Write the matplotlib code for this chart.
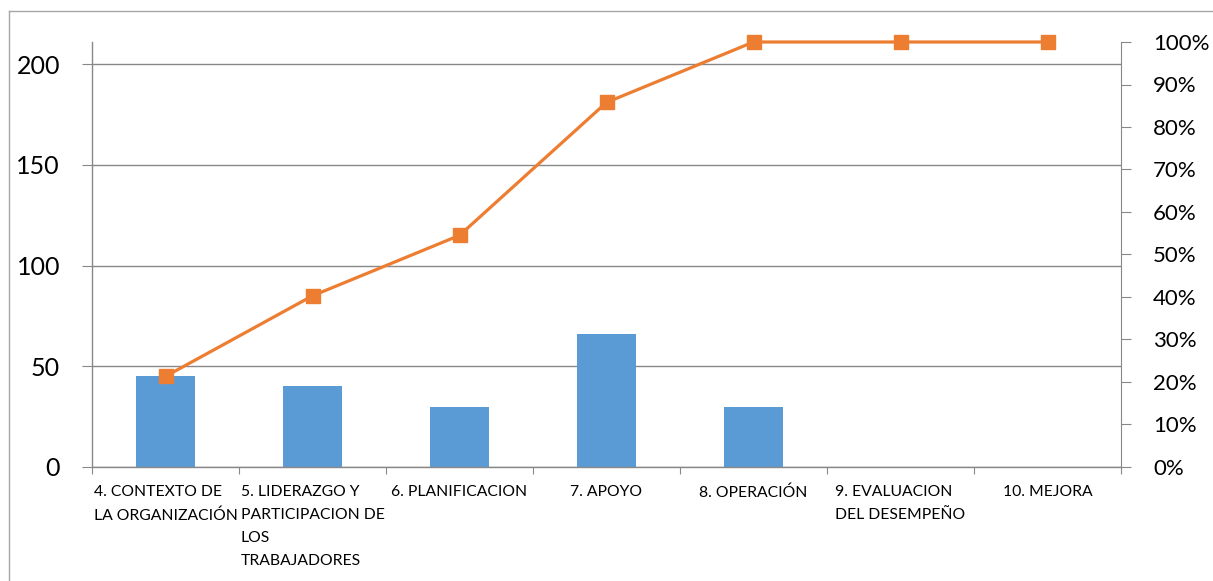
import numpy as np
import matplotlib
matplotlib.use("Agg")
import matplotlib.pyplot as plt
from matplotlib.lines import Line2D
from matplotlib.ticker import FuncFormatter

plt.rcParams["font.family"] = ["Lato", "DejaVu Sans"]

# Capítulos de la norma y número de hallazgos por capítulo
capitulos = [
    "4. CONTEXTO DE\nLA ORGANIZACIÓN",
    "5. LIDERAZGO Y\nPARTICIPACION DE\nLOS\nTRABAJADORES",
    "6. PLANIFICACION",
    "7. APOYO",
    "8. OPERACIÓN",
    "9. EVALUACION\nDEL DESEMPEÑO",
    "10. MEJORA",
]
hallazgos = [45, 40, 30, 66, 30, 0, 0]

total = sum(hallazgos)
acumulado = np.cumsum(hallazgos) / total

azul = "#5B9BD5"
naranja = "#ED7D31"
gris = "#888888"

fig = plt.figure(figsize=(12.13, 5.81), dpi=100)
ax = fig.add_axes([92 / 1213, 114 / 581, 1029 / 1213, 425 / 581])

x = np.arange(len(capitulos))
ax.bar(x, hallazgos, width=0.4, color=azul, zorder=2)
ax.set_xlim(-0.5, len(capitulos) - 0.5)
ax.set_ylim(0, total)
ax.set_yticks([0, 50, 100, 150, 200])
ax.yaxis.grid(True, color=gris, linewidth=1.0, zorder=0)
ax.set_axisbelow(True)

# ticks del eje x en los bordes de cada categoria
ax.set_xticks(np.arange(len(capitulos) + 1) - 0.5)
ax.set_xticklabels([])
ax.set_xticks(x, minor=True)
ax.set_xticklabels(capitulos, minor=True, fontsize=11.3, ha="center",
                   multialignment="left", va="top", linespacing=1.82)
ax.tick_params(axis="x", which="major", length=5, color=gris, direction="out")
ax.tick_params(axis="x", which="minor", length=0, pad=13)
ax.tick_params(axis="y", length=7, color=gris, labelsize=18, pad=16)

for lado in ["top", "right"]:
    ax.spines[lado].set_visible(False)
for lado in ["left", "bottom"]:
    ax.spines[lado].set_color(gris)
    ax.spines[lado].set_linewidth(1.0)

# porcentaje acumulado en el eje secundario
ax2 = ax.twinx()
ax2.plot(x, acumulado, color=naranja, linewidth=2.3, marker="s",
         markersize=9.5, zorder=3, clip_on=False)
ax2.set_ylim(0, 1)
ax2.set_yticks(np.linspace(0, 1, 11))
ax2.yaxis.set_major_formatter(FuncFormatter(lambda v, p: f"{v:.0%}"))
ax2.tick_params(axis="y", length=7, color=gris, labelsize=16, pad=16)
for lado in ["top", "left", "bottom"]:
    ax2.spines[lado].set_visible(False)
ax2.spines["right"].set_color(gris)

# marco exterior del grafico
fig.add_artist(Line2D([9 / 1213, 1.0], [1 - 11 / 581, 1 - 11 / 581],
                      transform=fig.transFigure, color="#A6A6A6", linewidth=1.0))
fig.add_artist(Line2D([9 / 1213, 9 / 1213], [0.0, 1 - 11 / 581],
                      transform=fig.transFigure, color="#A6A6A6", linewidth=1.0))

fig.savefig("out.png", dpi=100)
